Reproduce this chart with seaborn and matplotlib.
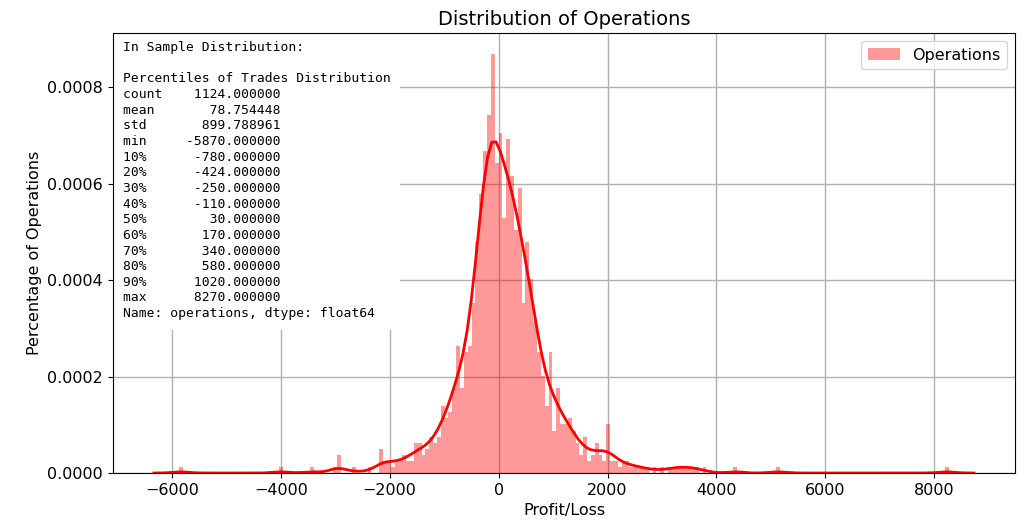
import numpy as np
import pandas as pd
import seaborn as sns
import matplotlib.pyplot as plt
from matplotlib.ticker import MultipleLocator

# trades per bin (200 equal-width bins between the min and max trade)
bin_counts = [
    1, 0, 0, 0, 0, 0, 0, 0, 0, 0, 0, 0, 0, 0, 0, 0, 0, 0, 0, 0,
    0, 0, 0, 0, 0, 0, 1, 0, 0, 0, 0, 0, 0, 0, 1, 0, 0, 0, 0, 0,
    1, 3, 0, 0, 0, 1, 0, 0, 0, 1, 0, 0, 4, 2, 2, 1, 2, 2, 3, 2,
    2, 5, 5, 3, 4, 6, 5, 6, 11, 9, 10, 14, 21, 14, 20, 21, 28, 38, 46, 53,
    59, 69, 51, 56, 42, 55, 49, 40, 47, 28, 38, 32, 25, 20, 16, 11, 20, 7, 14, 8,
    8, 9, 7, 5, 3, 6, 2, 3, 5, 3, 2, 8, 2, 2, 1, 2, 2, 1, 1, 1,
    1, 1, 0, 1, 0, 1, 0, 1, 1, 1, 1, 1, 1, 1, 1, 0, 1, 0, 0, 0,
    0, 0, 0, 0, 1, 0, 0, 0, 0, 0, 0, 0, 0, 0, 0, 1, 0, 0, 0, 0,
    0, 0, 0, 0, 0, 0, 0, 0, 0, 0, 0, 0, 0, 0, 0, 0, 0, 0, 0, 0,
    0, 0, 0, 0, 0, 0, 0, 0, 0, 0, 0, 0, 0, 0, 0, 0, 0, 0, 0, 1,
]

# describe() output shown in the text box
stat_labels = ["count", "mean", "std", "min", "10%", "20%", "30%", "40%",
               "50%", "60%", "70%", "80%", "90%", "max"]
stat_values = [1124.0, 78.754448, 899.788961, -5870.0, -780.0, -424.0,
               -250.0, -110.0, 30.0, 170.0, 340.0, 580.0, 1020.0, 8270.0]

KDE_BW = 153  # bandwidth of the smooth curve, in profit units


def describe_text():
    lines = ["In Sample Distribution:", "", "Percentiles of Trades Distribution"]
    for lab, val in zip(stat_labels, stat_values):
        lines.append(f"{lab:<5}{val:>15.6f}")
    lines.append("Name: operations, dtype: float64")
    return "\n".join(lines)


def main():
    counts = np.array(bin_counts, dtype=float)
    lo, hi = stat_values[3], stat_values[-1]
    nbins = len(counts)
    edges = np.linspace(lo, hi, nbins + 1)
    df = pd.DataFrame({"value": (edges[:-1] + edges[1:]) / 2,
                       "count": counts})

    # pick bw_adjust so the weighted kde ends up with KDE_BW
    w = counts / counts.sum()
    neff = 1 / (w ** 2).sum()
    sd = np.sqrt(np.cov(df["value"], aweights=counts))
    bw_adjust = KDE_BW / (sd * neff ** -0.2)

    fig = plt.figure(figsize=(10.25, 5.23), dpi=100)
    ax = fig.add_axes([0.1102, 0.0956, 0.880, 0.841])

    sns.histplot(data=df, x="value", weights="count", bins=nbins,
                 binrange=(lo, hi), stat="density",
                 kde=True, color="red", alpha=0.4, linewidth=0,
                 kde_kws={"cut": 3, "bw_adjust": bw_adjust,
                          "clip": (lo - 3 * KDE_BW, hi + 3 * KDE_BW)},
                 line_kws={"linewidth": 2}, ax=ax)

    ax.xaxis.set_major_locator(MultipleLocator(2000))
    ax.grid(True, color="#b0b0b0", linewidth=1)
    ax.set_axisbelow(True)
    ax.tick_params(labelsize=11.5)
    ax.set_xlabel("Profit/Loss", fontsize=11.5)
    ax.set_ylabel("Percentage of Operations", fontsize=11.5)
    ax.set_title("Distribution of Operations", fontsize=14)

    # white box sits over the grid but under the spines
    ax.text(0.011, 0.982, describe_text(), transform=ax.transAxes,
            va="top", ha="left", family="DejaVu Sans Mono", fontsize=9.4,
            linespacing=1.265, zorder=2.2,
            bbox=dict(facecolor="white", edgecolor="none", pad=7))

    ax.legend(handles=[ax.patches[0]], labels=["Operations"],
              loc="upper right", fontsize=11.5)

    fig.savefig("out.png", dpi=100)


if __name__ == "__main__":
    main()
